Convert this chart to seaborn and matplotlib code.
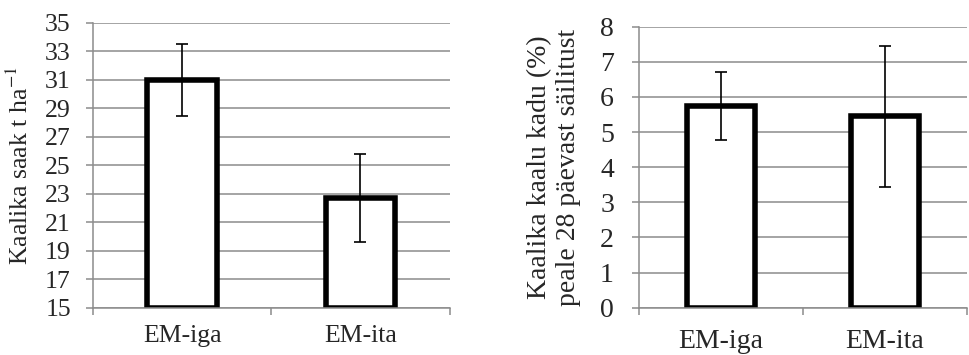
import matplotlib
matplotlib.use("Agg")
import matplotlib.pyplot as plt
import seaborn as sns
import pandas as pd
from matplotlib.ticker import FixedLocator

# andmed
categories = ["EM-iga", "EM-ita"]
yield_vals = [31.0, 22.7]
yield_err = [2.55, 3.1]
loss_vals = [5.75, 5.45]
loss_err = [0.97, 2.0]

sns.set_style("white")
plt.rcParams["font.family"] = ["Liberation Serif", "DejaVu Serif"]
plt.rcParams["mathtext.fontset"] = "stix"

GRID = "#8c8c8c"
SERIF = ["Liberation Serif", "DejaVu Serif"]


def bar_panel(ax, vals, errs, ymin, ymax, step, ylabel, fs, width, tickpad, labelpad, xpad):
    df = pd.DataFrame({"cat": categories, "val": vals})
    sns.barplot(data=df, x="cat", y="val", ax=ax, color="white",
                edgecolor="black", linewidth=4.0, width=width,
                errorbar=None, zorder=2)
    # tulbad algavad telje alumisest piirist
    for p in ax.patches:
        h = p.get_y() + p.get_height()
        p.set_y(ymin)
        p.set_height(h - ymin)
        p.set_joinstyle("miter")
    ax.errorbar(x=range(len(vals)), y=vals, yerr=errs, fmt="none",
                ecolor="black", elinewidth=1.2, capsize=4.5, capthick=1.2,
                zorder=3)
    ax.set_ylim(ymin, ymax)
    ax.set_xlim(-0.5, len(vals) - 0.5)
    ax.yaxis.set_major_locator(FixedLocator(list(range(ymin, ymax + 1, step))))
    ax.grid(axis="y", color=GRID, linewidth=1.1)
    ax.set_axisbelow(True)
    for s in ["top", "right"]:
        ax.spines[s].set_visible(False)
    for s in ["left", "bottom"]:
        ax.spines[s].set_color(GRID)
        ax.spines[s].set_linewidth(1.1)
    ax.tick_params(axis="y", length=5, width=1.1, color=GRID, pad=tickpad,
                   labelsize=fs, direction="out", left=True)
    ax.xaxis.set_minor_locator(FixedLocator([-0.5, 0.5, 1.5]))
    ax.tick_params(axis="x", which="major", length=0, pad=xpad, labelsize=fs)
    ax.tick_params(axis="x", which="minor", length=5, width=1.1, color=GRID,
                   direction="out", bottom=True)
    for t in ax.get_yticklabels() + ax.get_xticklabels():
        t.set_fontfamily(SERIF)
    ax.set_xlabel("")
    ax.set_ylabel(ylabel, fontsize=fs, labelpad=labelpad, fontfamily=SERIF)


fig = plt.figure(figsize=(9.69, 3.55), dpi=100)
ax1 = fig.add_axes([0.096, 0.1324, 0.368, 0.803])
ax2 = fig.add_axes([0.6594, 0.1332, 0.3385, 0.7915])

bar_panel(ax1, yield_vals, yield_err, 15, 35, 2,
          "Kaalika saak t ha$^{-1}$", 18.5, 0.39, 11, 9, 12)
bar_panel(ax2, loss_vals, loss_err, 0, 8, 1,
          "Kaalika kaalu kadu (%)\npeale 28 päevast säilitust", 20, 0.41, 13, 14, 15)

fig.savefig("out.png", dpi=100)
